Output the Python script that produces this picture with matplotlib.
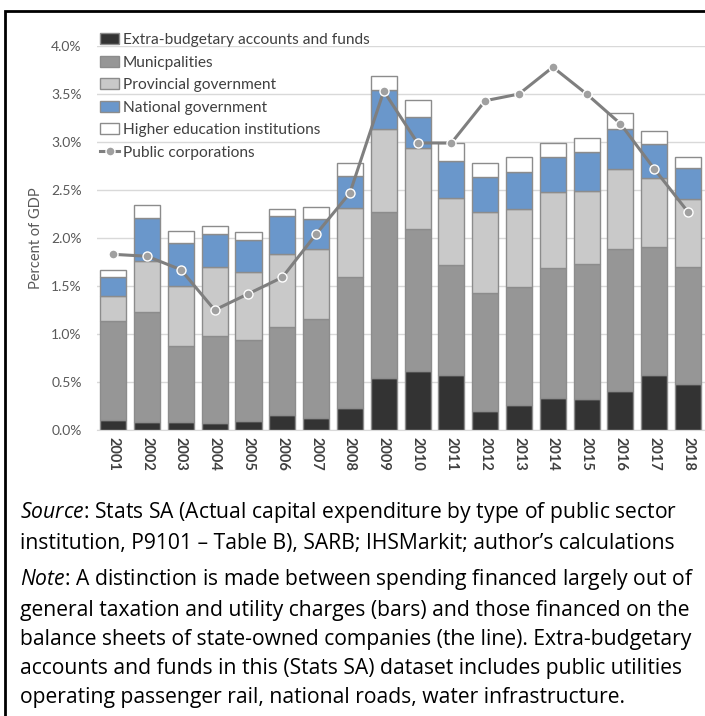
#!/usr/bin/env python3
"""Public sector capital expenditure by institution type, % of GDP, 2001-2018."""

import matplotlib

matplotlib.use("Agg")
import matplotlib.pyplot as plt
from matplotlib.patches import Rectangle
from matplotlib.ticker import FuncFormatter
import numpy as np

YEARS = [str(y) for y in range(2001, 2019)]

# stacked bar segments, percent of GDP (cumulative tops)
EXTRA_BUDGETARY = [0.10, 0.08, 0.08, 0.07, 0.09, 0.16, 0.13, 0.23, 0.54, 0.61,
                   0.57, 0.20, 0.26, 0.33, 0.32, 0.41, 0.57, 0.48]
MUNICIPALITIES_TOP = [1.14, 1.23, 0.88, 0.98, 0.94, 1.07, 1.16, 1.59, 2.27, 2.09,
                      1.72, 1.43, 1.49, 1.69, 1.73, 1.89, 1.91, 1.70]
PROVINCIAL_TOP = [1.40, 1.76, 1.50, 1.70, 1.65, 1.83, 1.89, 2.31, 3.14, 2.94,
                  2.42, 2.27, 2.30, 2.48, 2.49, 2.72, 2.63, 2.41]
NATIONAL_TOP = [1.59, 2.21, 1.95, 2.04, 1.98, 2.23, 2.20, 2.65, 3.54, 3.26,
                2.80, 2.64, 2.69, 2.84, 2.90, 3.14, 2.98, 2.73]
HIGHER_ED_TOP = [1.67, 2.34, 2.07, 2.13, 2.06, 2.30, 2.32, 2.78, 3.69, 3.44,
                 2.99, 2.78, 2.84, 2.99, 3.04, 3.30, 3.11, 2.84]
PUBLIC_CORPS = [1.83, 1.81, 1.67, 1.25, 1.42, 1.59, 2.04, 2.47, 3.53, 2.99,
                2.99, 3.43, 3.50, 3.78, 3.50, 3.19, 2.72, 2.27]

SERIES_LABELS = [
    "Extra-budgetary accounts and funds",
    "Municpalities",
    "Provincial government",
    "National government",
    "Higher education institutions",
]
SERIES_COLORS = ["#333333", "#969696", "#C9C9C9", "#6A97CB", "#FFFFFF"]

SOURCE_TEXT = ("$\\it{Source}$: Stats SA (Actual capital expenditure by type of public sector\n"
               "institution, P9101 \u2013 Table B), SARB; IHSMarkit; author\u2019s calculations")
NOTE_TEXT = ("$\\it{Note}$: A distinction is made between spending financed largely out of\n"
             "general taxation and utility charges (bars) and those financed on the\n"
             "balance sheets of state-owned companies (the line). Extra-budgetary\n"
             "accounts and funds in this (Stats SA) dataset includes public utilities\n"
             "operating passenger rail, national roads, water infrastructure.")

CHART_FONT = "Lato"
CAPTION_FONT = "Open Sans"

plt.rcParams["font.family"] = [CHART_FONT, "DejaVu Sans"]
plt.rcParams["mathtext.fontset"] = "custom"
plt.rcParams["mathtext.it"] = CAPTION_FONT + ":italic"
plt.rcParams["mathtext.rm"] = CAPTION_FONT

fig = plt.figure(figsize=(7.05, 7.16), dpi=100)
ax = fig.add_axes([97 / 705, 1 - 430 / 716, 1 - 97 / 705, (430 - 46) / 716])

x = np.arange(len(YEARS))
tops = [EXTRA_BUDGETARY, MUNICIPALITIES_TOP, PROVINCIAL_TOP, NATIONAL_TOP, HIGHER_ED_TOP]
bottom = np.zeros(len(YEARS))
handles = []
for top, label, color in zip(tops, SERIES_LABELS, SERIES_COLORS):
    top = np.asarray(top)
    bars = ax.bar(x, top - bottom, bottom=bottom, width=0.77, color=color,
                  edgecolor="#8C8C8C", linewidth=1.0, label=label, zorder=2)
    handles.append(bars)
    bottom = top

line, = ax.plot(x, PUBLIC_CORPS, color="#7F7F7F", linewidth=2.2, marker="o",
                markersize=6.5, markerfacecolor="#A0A0A0", markeredgecolor="white",
                markeredgewidth=1.0, label="Public corporations", zorder=3)
handles.append(line)

ax.set_xlim(-0.48, len(YEARS) - 0.5)
ax.set_ylim(0, 4.0)
ax.set_yticks(np.arange(0, 4.01, 0.5))
ax.yaxis.set_major_formatter(FuncFormatter(lambda v, _: f"{v:.1f}%"))
ax.set_xticks(x)
ax.set_xticklabels(YEARS, rotation=-90, fontweight="bold", fontsize=10.5, color="#404040")
ax.tick_params(axis="y", labelsize=10, colors="#595959", length=0, pad=11)
ax.tick_params(axis="x", length=0, pad=5)
ax.grid(axis="y", color="#D9D9D9", linewidth=1.0)
ax.set_axisbelow(True)
for side in ("top", "right", "left"):
    ax.spines[side].set_visible(False)
ax.spines["bottom"].set_color("#D9D9D9")
ax.set_ylabel("Percent of GDP", fontsize=10.5, color="#595959", labelpad=6)

leg = ax.legend(handles=handles, labels=[h.get_label() for h in handles],
                loc="upper left", bbox_to_anchor=(-0.005, 1.05), frameon=False,
                fontsize=11.2, handlelength=1.2, handleheight=0.7,
                handletextpad=0.25, labelspacing=0.55, borderaxespad=0)
for txt in leg.get_texts():
    txt.set_color("#404040")

fig.text(20 / 705, 1 - 500 / 716, SOURCE_TEXT, fontsize=15.2, family=CAPTION_FONT,
         va="top", ha="left", linespacing=1.5, color="black")
fig.text(20 / 705, 1 - 567 / 716, NOTE_TEXT, fontsize=15.2, family=CAPTION_FONT,
         va="top", ha="left", linespacing=1.5, color="black")

# outer frame, cut off at the right and bottom edges
fig.patches.append(Rectangle((5 / 705, -0.05), 1.1, 1 - 11 / 716 + 0.05,
                             transform=fig.transFigure, fill=False,
                             edgecolor="black", linewidth=2.0))

fig.savefig("out.png", dpi=100)
